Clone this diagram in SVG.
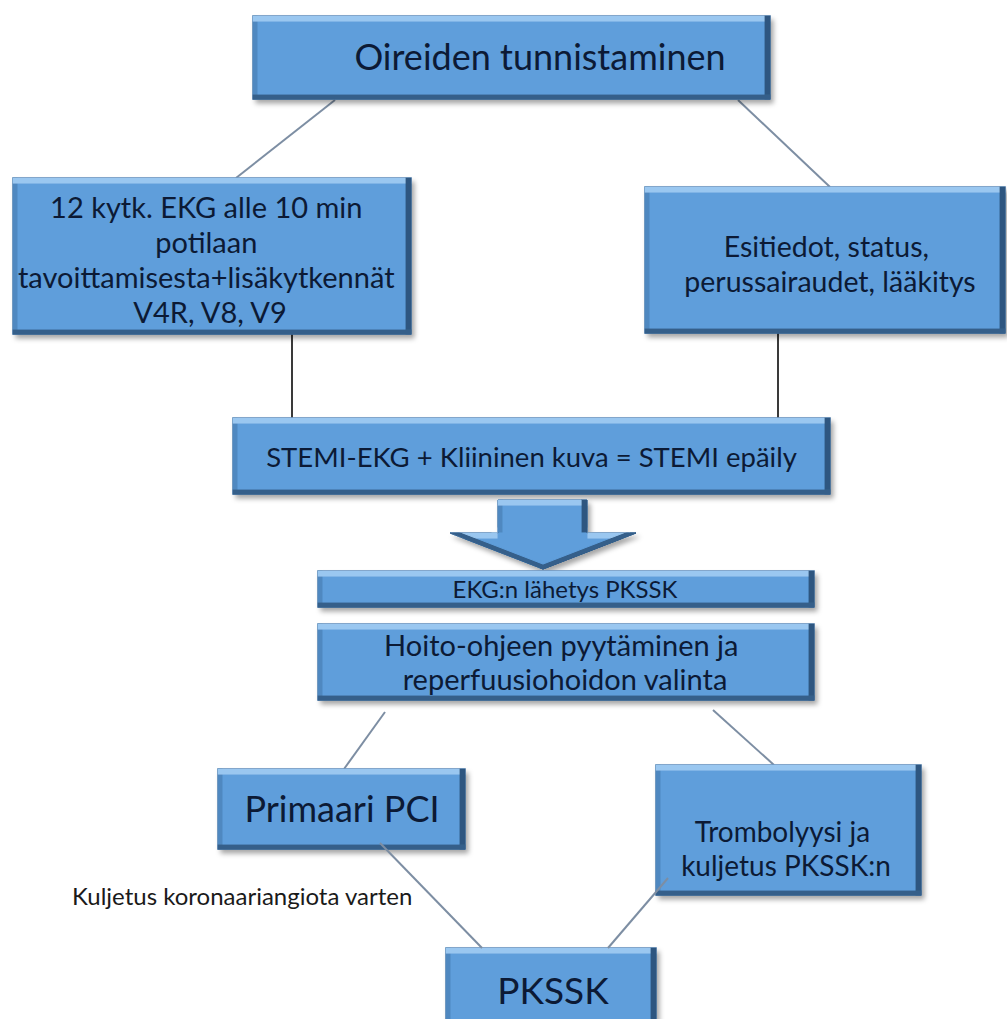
<svg xmlns="http://www.w3.org/2000/svg" width="1007" height="1019" viewBox="0 0 1007 1019">
<defs>
<filter id="bevel" x="-10%" y="-20%" width="120%" height="150%">
  <feGaussianBlur in="SourceAlpha" stdDeviation="2.5" result="blur"/>
  <feOffset in="blur" dx="3" dy="4" result="sh"/>
  <feFlood flood-color="#000" flood-opacity="0.35"/>
  <feComposite in2="sh" operator="in" result="shadow"/>
  <feOffset in="SourceAlpha" dx="0" dy="6" result="dn"/>
  <feComposite in="SourceAlpha" in2="dn" operator="out" result="topEdge"/>
  <feFlood flood-color="#9ac7f0"/>
  <feComposite in2="topEdge" operator="in" result="top"/>
  <feOffset in="SourceAlpha" dx="0" dy="-5" result="up"/>
  <feComposite in="SourceAlpha" in2="up" operator="out" result="botEdge"/>
  <feFlood flood-color="#355f8a"/>
  <feComposite in2="botEdge" operator="in" result="bot"/>
  <feOffset in="SourceAlpha" dx="-6" dy="0" result="lf"/>
  <feComposite in="SourceAlpha" in2="lf" operator="out" result="rEdge"/>
  <feFlood flood-color="#2e5680"/>
  <feComposite in2="rEdge" operator="in" result="right"/>
  <feOffset in="SourceAlpha" dx="5" dy="0" result="rt"/>
  <feComposite in="SourceAlpha" in2="rt" operator="out" result="lEdge"/>
  <feFlood flood-color="#4f88c0"/>
  <feComposite in2="lEdge" operator="in" result="left"/>
  <feMerge>
    <feMergeNode in="shadow"/>
    <feMergeNode in="SourceGraphic"/>
    <feMergeNode in="left"/>
    <feMergeNode in="top"/>
    <feMergeNode in="right"/>
    <feMergeNode in="bot"/>
  </feMerge>
</filter>
</defs>
<style>
  .box { fill: #5e9edb; stroke: #2f5b86; stroke-width: 1; filter: url(#bevel); }
  .t { font-family: Lato, "Liberation Sans", sans-serif; fill: #0c1a35; text-anchor: middle; }
  .lbl { font-family: Lato, "Liberation Sans", sans-serif; fill: #1a1a1a; }
  .c-gray { stroke: #7d8ea3; stroke-width: 2; fill: none; }
  .c-dark { stroke: #3a3a3a; stroke-width: 2; fill: none; }
</style>
<rect width="1007" height="1019" fill="#ffffff"/>

<g id="connectors">
  <line class="c-gray" x1="335" y1="100" x2="236" y2="178"/>
  <line class="c-gray" x1="738" y1="100" x2="830" y2="187"/>
  <line class="c-dark" x1="292" y1="334" x2="292" y2="418"/>
  <line class="c-dark" x1="778" y1="333" x2="778" y2="418"/>
  <line class="c-gray" x1="385" y1="712" x2="344" y2="769"/>
  <line class="c-gray" x1="713" y1="710" x2="774" y2="765"/>
</g>

<g id="n1">
  <rect class="box" x="253" y="16" width="517" height="83"/>
  <text class="t" x="540" y="70" font-size="36">Oireiden tunnistaminen</text>
</g>
<g id="n2">
  <rect class="box" x="13" y="178" width="398" height="156"/>
  <text class="t" font-size="29">
    <tspan x="210" y="218">12 kytk. EKG alle 10 min</tspan>
    <tspan x="210" y="253">potilaan</tspan>
    <tspan x="210" y="288">tavoittamisesta+lisäkytkennät</tspan>
    <tspan x="210" y="323">V4R, V8, V9</tspan>
  </text>
</g>
<g id="n3">
  <rect class="box" x="645" y="187" width="360" height="146"/>
  <text class="t" font-size="28.5">
    <tspan x="830" y="257">Esitiedot, status,</tspan>
    <tspan x="830" y="292">perussairaudet, lääkitys</tspan>
  </text>
</g>
<g id="n4">
  <rect class="box" x="233" y="418" width="597" height="76"/>
  <text class="t" x="531.5" y="467" font-size="27.5">STEMI-EKG + Kliininen kuva = STEMI epäily</text>
</g>
<g id="bigarrow">
  <polygon class="box" points="498,500 587,500 587,533 636,533 543,569 450,533 498,533"/>
</g>
<g id="n5">
  <rect class="box" x="318" y="571" width="496" height="36"/>
  <text class="t" x="565" y="598" font-size="24">EKG:n lähetys PKSSK</text>
</g>
<g id="n6">
  <rect class="box" x="318" y="624" width="496" height="76"/>
  <text class="t" font-size="29">
    <tspan x="565" y="656">Hoito-ohjeen pyytäminen ja</tspan>
    <tspan x="565" y="690">reperfuusiohoidon valinta</tspan>
  </text>
</g>
<g id="n7">
  <rect class="box" x="218" y="769" width="247" height="80"/>
  <text class="t" x="342" y="822" font-size="36">Primaari PCI</text>
</g>
<g id="n8">
  <rect class="box" x="656" y="765" width="265" height="130"/>
  <text class="t" font-size="28">
    <tspan x="786" y="842">Trombolyysi ja</tspan>
    <tspan x="786" y="876">kuljetus PKSSK:n</tspan>
  </text>
</g>
<g id="n9">
  <rect class="box" x="446" y="948" width="210" height="85"/>
  <text class="t" x="553" y="1004" font-size="37">PKSSK</text>
</g>

<g id="connectors-over">
  <line class="c-gray" x1="380" y1="843" x2="482" y2="948"/>
  <line class="c-gray" x1="668" y1="878" x2="608" y2="948"/>
</g>

<text class="lbl" x="72" y="905" font-size="24">Kuljetus koronaariangiota varten</text>
</svg>
